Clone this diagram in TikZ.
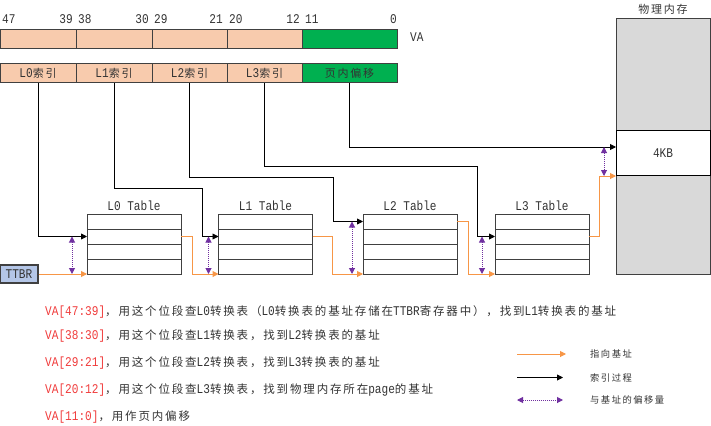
\documentclass[tikz,border=0pt]{standalone}
\usepackage{fontspec}
\setmainfont{Liberation Mono}[FakeStretch=0.835]
\newfontfamily\cjk[LetterSpace=16]{Noto Sans CJK SC}
\usetikzlibrary{arrows.meta,calc}
\definecolor{peach}{HTML}{F8CBAD}
\definecolor{vgreen}{HTML}{00B050}
\definecolor{borderc}{HTML}{404040}
\definecolor{orng}{HTML}{F79646}
\definecolor{purp}{HTML}{7030A0}
\definecolor{memgray}{HTML}{D9D9D9}
\definecolor{txt}{HTML}{333333}
\definecolor{vared}{HTML}{F03C3C}
\definecolor{ttbrc}{HTML}{B4C6E7}
\newcommand\zh[1]{{\fontsize{11.5}{14}\cjk #1}}
\newcommand\zht[1]{{\fontsize{11}{14}\cjk #1}}
\newcommand\zhs[1]{{\fontsize{9.3}{12}\cjk #1}}
\tikzset{
  seg/.style={draw=borderc, line width=1pt, fill=peach, minimum height=19pt,
    inner sep=0pt, outer sep=0pt, anchor=north west},
  row/.style={draw=borderc, line width=1pt, fill=white, minimum width=94pt,
    minimum height=15pt, inner sep=0pt, outer sep=0pt},
  idxarrow/.style={draw=black, line width=0.9pt, -{Triangle[length=6pt,width=6pt]}},
  basearrow/.style={draw=orng, line width=1pt, -{Triangle[length=6pt,width=6pt]}},
  offarrow/.style={draw=purp, line width=1pt, densely dotted,
    {Triangle[length=6pt,width=6pt]}-{Triangle[length=6pt,width=6pt]}},
  numlbl/.style={anchor=base, inner sep=0pt},
  desc/.style={anchor=base west, inner sep=0pt},
}
\begin{document}
\begin{tikzpicture}[x=1pt,y=-1pt,font=\fontsize{13.3}{15}\selectfont,text=txt]
\path[use as bounding box] (0,0) rectangle (711,425);

% bit numbers
\node[numlbl,anchor=base west] (n47) at (2,24) {47};
\node[numlbl,anchor=base east] (n39) at (73,24) {39};
\node[numlbl,anchor=base west] (n38) at (78,24) {38};
\node[numlbl,anchor=base east] (n30) at (149,24) {30};
\node[numlbl,anchor=base west] (n29) at (154,24) {29};
\node[numlbl,anchor=base east] (n21) at (223,24) {21};
\node[numlbl,anchor=base west] (n20) at (229,24) {20};
\node[numlbl,anchor=base east] (n12) at (300,24) {12};
\node[numlbl,anchor=base west] (n11) at (305,24) {11};
\node[numlbl,anchor=base east] (n0) at (397,24) {0};

% VA bar
\node[seg, minimum width=76pt] (va0) at (0,30) {};
\node[seg, minimum width=76pt] (va1) at (76,30) {};
\node[seg, minimum width=75pt] (va2) at (152,30) {};
\node[seg, minimum width=75pt] (va3) at (227,30) {};
\node[seg, minimum width=95pt, fill=vgreen] (va4) at (302,30) {};
\node[desc] (valbl) at (410,41.5) {VA};

% index bar
\node[seg, minimum width=76pt] (idx0) at (0,64) {L0\zht{索引}};
\node[seg, minimum width=76pt] (idx1) at (76,64) {L1\zht{索引}};
\node[seg, minimum width=75pt] (idx2) at (152,64) {L2\zht{索引}};
\node[seg, minimum width=75pt] (idx3) at (227,64) {L3\zht{索引}};
\node[seg, minimum width=95pt, fill=vgreen] (idx4) at (302,64) {\zht{页内偏移}};

% tables
\foreach \t/\x in {0/134,1/265.5,2/410,3/542}{
  \foreach \r/\y in {1/221.5,2/236.5,3/251.5,4/266.5}{
    \node[row] (t\t-\r) at (\x,\y) {};
  }
  \node[numlbl] (title\t) at (\x,210) {L\t{} Table};
}

% TTBR
\node[draw=borderc, fill=ttbrc, line width=1.2pt, minimum width=38pt,
  minimum height=18pt, inner sep=0pt] (ttbr) at (19,274) {TTBR};

% physical memory
\node[draw=borderc, fill=memgray, line width=1.2pt, minimum width=94pt,
  minimum height=256pt, anchor=north west, inner sep=0pt] (mem) at (616,18) {};
\node[draw=black, fill=white, line width=1pt, minimum width=94pt,
  minimum height=45pt, anchor=north west, inner sep=0pt] (kb) at (616,130) {};
\node[numlbl] (kblbl) at (663,157) {4KB};
\node[numlbl] (memlbl) at (663,14) {\zht{物理内存}};

% index connectors
\coordinate (k1) at (202,188);
\coordinate (k2) at (333,177);
\coordinate (k3) at (477,166);
\coordinate (k4) at (616,147);
\draw[idxarrow] (idx0.south) |- (t0-2.west);
\draw[idxarrow] (idx1.south) |- (k1) |- (t1-2.west);
\draw[idxarrow] (idx2.south) |- (k2) |- (t2-1.west);
\draw[idxarrow] (idx3.south) |- (k3) |- (t3-2.west);
\draw[idxarrow] (idx4.south) |- (k4);

% base connectors
\draw[basearrow] (ttbr.east) -- (t0-4.south west);
\draw[basearrow] (t0-2.east) -- ++(11.5,0) |- (t1-4.south west);
\draw[basearrow] (t1-2.east) -- ++(20,0) |- (t2-4.south west);
\draw[basearrow] (t2-1.east) -- ++(11,0) |- (t3-4.south west);
\draw[basearrow] (t3-2.east) -- ++(10,0) |- (kb.south west);

% offsets
\draw[offarrow] ($(t0-2.west)+(-15,0)$) -- ($(t0-4.south west)+(-15,0)$);
\draw[offarrow] ($(t1-2.west)+(-10,0)$) -- ($(t1-4.south west)+(-10,0)$);
\draw[offarrow] ($(t2-1.west)+(-11,0)$) -- ($(t2-4.south west)+(-11,0)$);
\draw[offarrow] ($(t3-2.west)+(-13,0)$) -- ($(t3-4.south west)+(-13,0)$);
\draw[offarrow] ($(k4)+(-12,0)$) -- ($(kb.south west)+(-12,0)$);

% description lines
\node[desc] (d1) at (45,315) {\textcolor{vared}{VA[47:39]}\zh{，用这个位段查}L0\zh{转换表（}L0\zh{转换表的基址存储在}TTBR\zh{寄存器中），找到}L1\zh{转换表的基址}};
\node[desc] (d2) at (45,339) {\textcolor{vared}{VA[38:30]}\zh{，用这个位段查}L1\zh{转换表，找到}L2\zh{转换表的基址}};
\node[desc] (d3) at (45,366) {\textcolor{vared}{VA[29:21]}\zh{，用这个位段查}L2\zh{转换表，找到}L3\zh{转换表的基址}};
\node[desc] (d4) at (45,393) {\textcolor{vared}{VA[20:12]}\zh{，用这个位段查}L3\zh{转换表，找到物理内存所在}page\zh{的基址}};
\node[desc] (d5) at (45,420) {\textcolor{vared}{VA[11:0]}\zh{，用作页内偏移}};

% legend
\coordinate (lg1a) at (517,354); \coordinate (lg1b) at (566,354);
\coordinate (lg2a) at (517,377.5); \coordinate (lg2b) at (563,377.5);
\coordinate (lg3a) at (517,400); \coordinate (lg3b) at (563,400);
\draw[basearrow] (lg1a) -- (lg1b);
\draw[idxarrow] (lg2a) -- (lg2b);
\draw[offarrow] (lg3a) -- (lg3b);
\node[anchor=west, inner sep=0pt] (lgt1) at (590,354) {\zhs{指向基址}};
\node[anchor=west, inner sep=0pt] (lgt2) at (590,377.5) {\zhs{索引过程}};
\node[anchor=west, inner sep=0pt] (lgt3) at (590,400) {\zhs{与基址的偏移量}};
\end{tikzpicture}
\end{document}
